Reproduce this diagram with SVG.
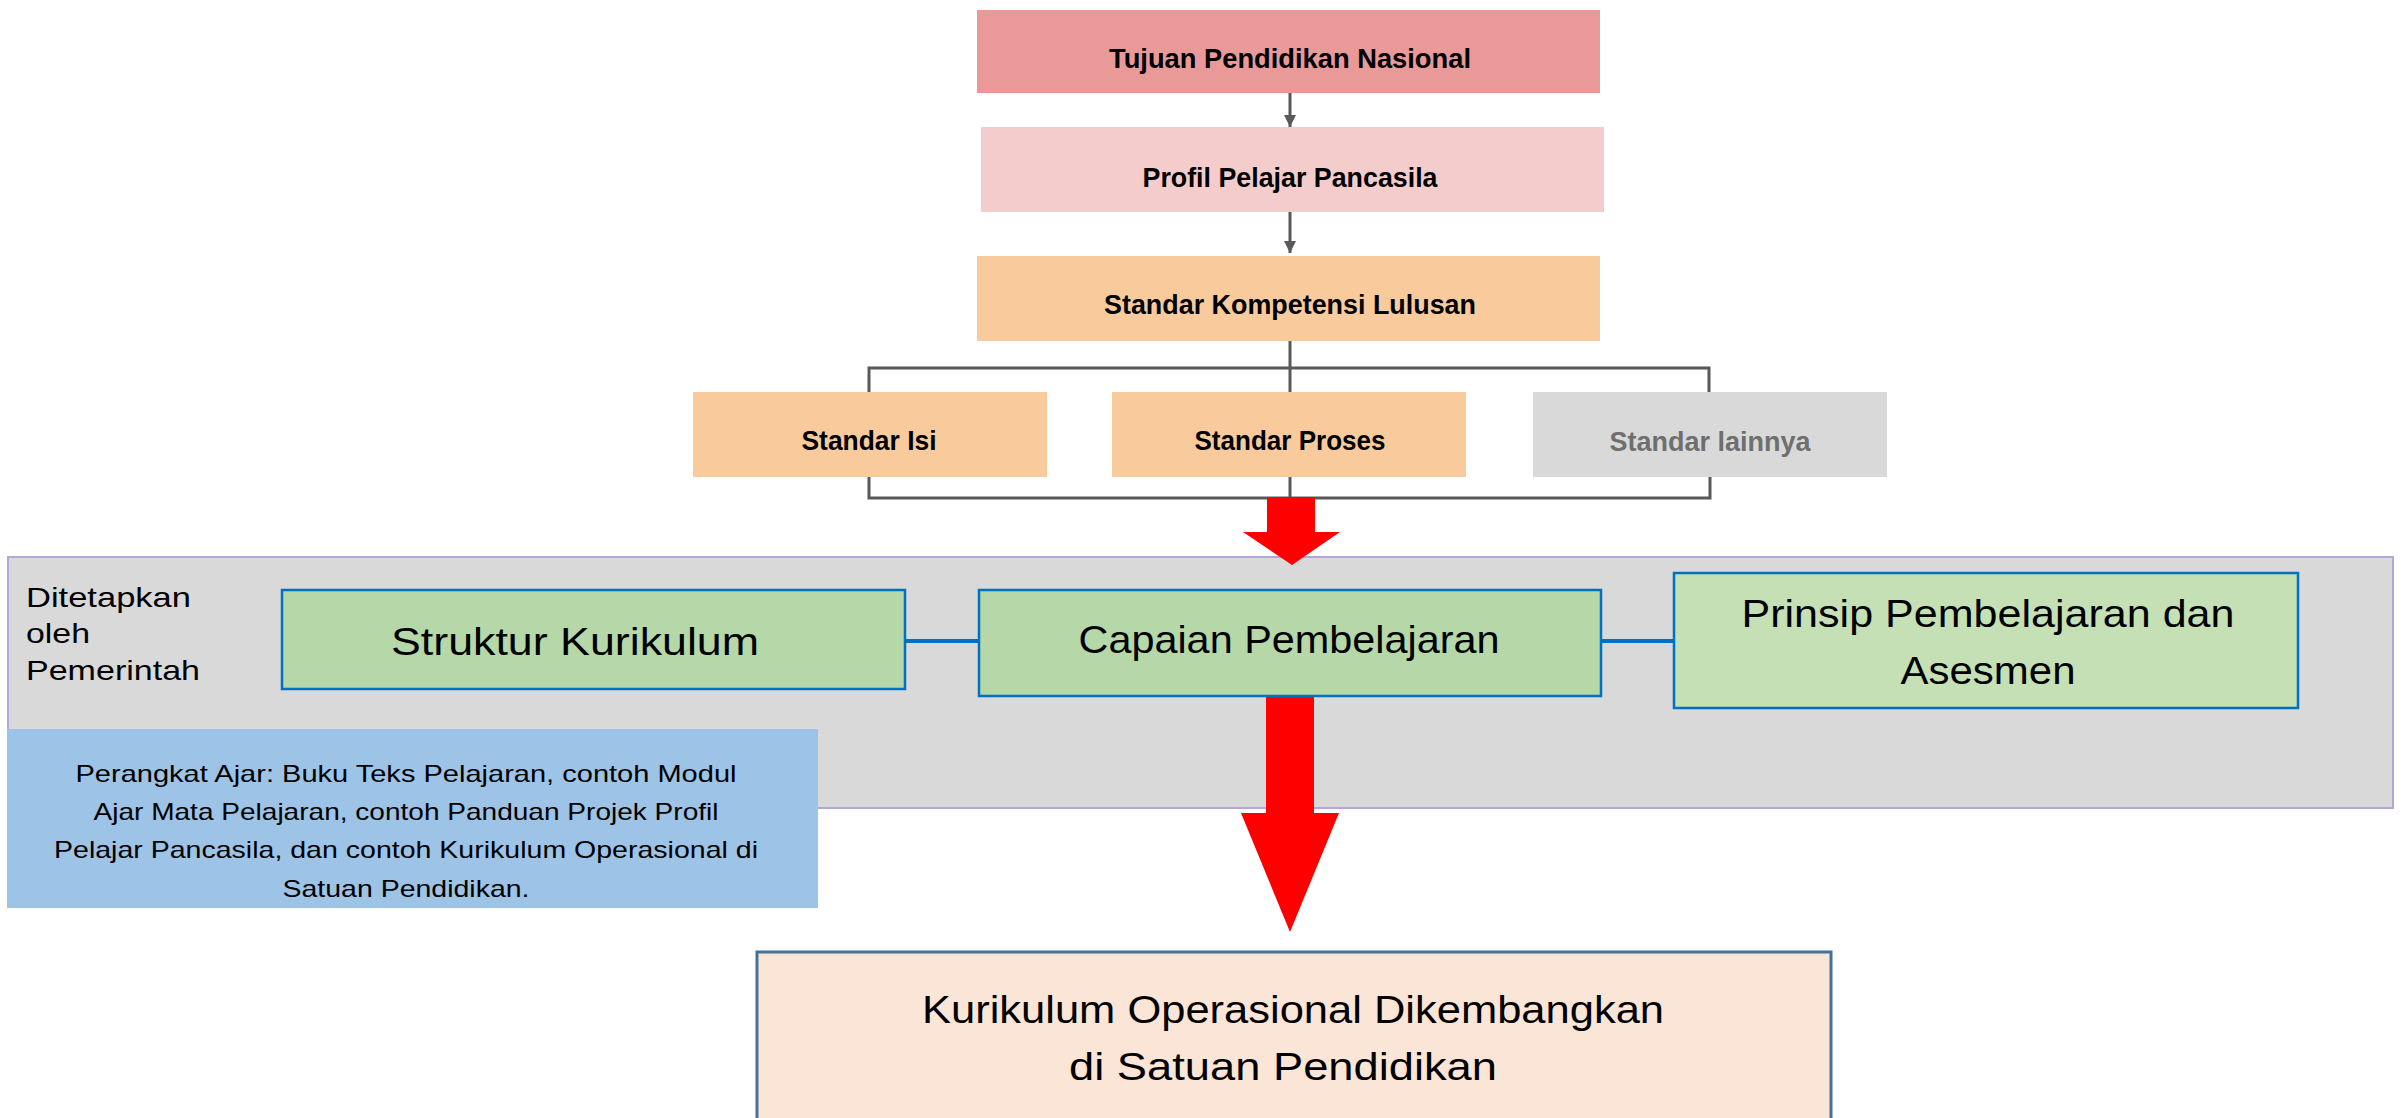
<svg xmlns="http://www.w3.org/2000/svg" width="2405" height="1118" viewBox="0 0 2405 1118">
<defs>
<style>
.t{font-family:"Liberation Sans",Arial,sans-serif;fill:#000;}
.b{font-weight:bold;font-size:28px;}
.ln{stroke:#595959;stroke-width:3;fill:none;}
.bl{stroke:#0070c0;stroke-width:4;fill:none;}
.gb{stroke:#0070c0;stroke-width:2.5;}
</style>
<marker id="ah" viewBox="0 0 10 10" refX="10" refY="5" markerWidth="4" markerHeight="4" orient="auto" markerUnits="strokeWidth">
<path d="M0,0 L10,5 L0,10 z" fill="#595959"/>
</marker>
</defs>
<rect width="2405" height="1118" fill="#ffffff"/>

<g id="panel">
<rect x="8" y="557" width="2385" height="251" fill="#d9d9d9" stroke="#b4a7d6" stroke-width="2"/>
<text class="t" font-size="28" x="26" y="607" textLength="165" lengthAdjust="spacingAndGlyphs">Ditetapkan</text>
<text class="t" font-size="28" x="26" y="643" textLength="64" lengthAdjust="spacingAndGlyphs">oleh</text>
<text class="t" font-size="28" x="26" y="680" textLength="174" lengthAdjust="spacingAndGlyphs">Pemerintah</text>
</g>

<g id="connectors">
<line class="ln" x1="1290" y1="92" x2="1290" y2="127" stroke-width="4" marker-end="url(#ah)"/>
<line class="ln" x1="1290" y1="210" x2="1290" y2="253" stroke-width="4" marker-end="url(#ah)"/>
<polyline class="ln" points="1290,341 1290,368"/>
<polyline class="ln" points="869,392 869,368 1709,368 1709,392"/>
<line class="ln" x1="1290" y1="368" x2="1290" y2="392"/>
<polyline class="ln" points="869,477 869,498 1710,498 1710,477"/>
<line class="ln" x1="1290" y1="477" x2="1290" y2="498"/>
<line class="bl" x1="905" y1="641" x2="979" y2="641"/>
<line class="bl" x1="1601" y1="641" x2="1674" y2="641"/>
<line class="bl" x1="1290" y1="667" x2="1290" y2="688"/>
<polygon points="1267,497 1315,497 1315,532 1340,532 1292,565 1243,532 1267,532" fill="#ff0000"/>
<polygon points="1266,694 1314,694 1314,813 1339,813 1290,932 1241,813 1266,813" fill="#ff0000"/>
</g>

<g id="tujuan">
<rect x="977" y="10" width="623" height="83" fill="#ea9999"/>
<text class="t b" x="1290" y="68" text-anchor="middle" textLength="362" lengthAdjust="spacingAndGlyphs">Tujuan Pendidikan Nasional</text>
</g>
<g id="profil">
<rect x="981" y="127" width="623" height="85" fill="#f4cccc"/>
<text class="t b" x="1290" y="187" text-anchor="middle" textLength="295" lengthAdjust="spacingAndGlyphs">Profil Pelajar Pancasila</text>
</g>
<g id="skl">
<rect x="977" y="256" width="623" height="85" fill="#f9cb9c"/>
<text class="t b" x="1290" y="314" text-anchor="middle" textLength="372" lengthAdjust="spacingAndGlyphs">Standar Kompetensi Lulusan</text>
</g>
<g id="isi">
<rect x="693" y="392" width="354" height="85" fill="#f9cb9c"/>
<text class="t b" x="869" y="450" text-anchor="middle" textLength="135" lengthAdjust="spacingAndGlyphs">Standar Isi</text>
</g>
<g id="proses">
<rect x="1112" y="392" width="354" height="85" fill="#f9cb9c"/>
<text class="t b" x="1290" y="450" text-anchor="middle" textLength="191" lengthAdjust="spacingAndGlyphs">Standar Proses</text>
</g>
<g id="lainnya">
<rect x="1533" y="392" width="354" height="85" fill="#d9d9d9"/>
<text class="t b" x="1710" y="451" text-anchor="middle" textLength="201" lengthAdjust="spacingAndGlyphs" style="fill:#6f6f6f">Standar lainnya</text>
</g>

<g id="struktur">
<rect x="282" y="590" width="623" height="99" fill="#b6d7a8" class="gb"/>
<text class="t" font-size="39" x="575" y="655" text-anchor="middle" textLength="368" lengthAdjust="spacingAndGlyphs">Struktur Kurikulum</text>
</g>
<g id="capaian">
<rect x="979" y="590" width="622" height="106" fill="#b6d7a8" class="gb"/>
<text class="t" font-size="39" x="1289" y="653" text-anchor="middle" textLength="421" lengthAdjust="spacingAndGlyphs">Capaian Pembelajaran</text>
</g>
<g id="prinsip">
<rect x="1674" y="573" width="624" height="135" fill="#c5e0b4" class="gb"/>
<text class="t" font-size="39" x="1988" y="627" text-anchor="middle" textLength="493" lengthAdjust="spacingAndGlyphs">Prinsip Pembelajaran dan</text>
<text class="t" font-size="39" x="1988" y="684" text-anchor="middle" textLength="175" lengthAdjust="spacingAndGlyphs">Asesmen</text>
</g>

<g id="perangkat">
<rect x="7" y="729" width="811" height="179" fill="#9dc3e6"/>
<text class="t" font-size="24" x="406" y="782" text-anchor="middle" textLength="661" lengthAdjust="spacingAndGlyphs">Perangkat Ajar: Buku Teks Pelajaran, contoh Modul</text>
<text class="t" font-size="24" x="406" y="820" text-anchor="middle" textLength="625" lengthAdjust="spacingAndGlyphs">Ajar Mata Pelajaran, contoh Panduan Projek Profil</text>
<text class="t" font-size="24" x="406" y="858" text-anchor="middle" textLength="704" lengthAdjust="spacingAndGlyphs">Pelajar Pancasila, dan contoh Kurikulum Operasional di</text>
<text class="t" font-size="24" x="406" y="897" text-anchor="middle" textLength="247" lengthAdjust="spacingAndGlyphs">Satuan Pendidikan.</text>
</g>

<g id="kurop">
<rect x="757" y="952" width="1074" height="180" fill="#fbe5d6" stroke="#41719c" stroke-width="3"/>
<text class="t" font-size="38" x="1293" y="1023" text-anchor="middle" textLength="742" lengthAdjust="spacingAndGlyphs">Kurikulum Operasional Dikembangkan</text>
<text class="t" font-size="38" x="1283" y="1080" text-anchor="middle" textLength="428" lengthAdjust="spacingAndGlyphs">di Satuan Pendidikan</text>
</g>
</svg>
